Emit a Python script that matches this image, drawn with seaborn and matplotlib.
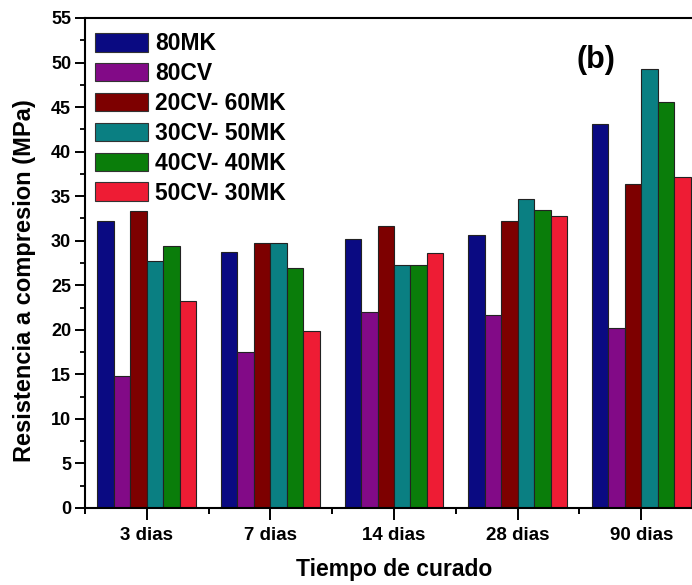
import matplotlib
matplotlib.use("Agg")
import matplotlib.pyplot as plt
from matplotlib.ticker import MultipleLocator, FixedLocator
import seaborn as sns
import pandas as pd

# Curing times and mix designs
tiempos = ["3 dias", "7 dias", "14 dias", "28 dias", "90 dias"]
mezclas = ["80MK", "80CV", "20CV- 60MK", "30CV- 50MK", "40CV- 40MK", "50CV- 30MK"]

# Compressive strength (MPa) per mix, one value per curing time
r_80mk = [32.2, 28.7, 30.2, 30.6, 43.1]
r_80cv = [14.8, 17.5, 22.0, 21.7, 20.2]
r_20cv_60mk = [33.3, 29.7, 31.6, 32.2, 36.4]
r_30cv_50mk = [27.7, 29.7, 27.3, 34.7, 49.3]
r_40cv_40mk = [29.4, 26.9, 27.3, 33.4, 45.6]
r_50cv_30mk = [23.2, 19.9, 28.6, 32.8, 37.1]

colores = ["#0a0a82", "#820a87", "#7d0000", "#0a7f82", "#0a7d0a", "#ee1c34"]

series = [r_80mk, r_80cv, r_20cv_60mk, r_30cv_50mk, r_40cv_40mk, r_50cv_30mk]
rows = []
for mezcla, vals in zip(mezclas, series):
    for t, v in zip(tiempos, vals):
        rows.append({"Tiempo": t, "Mezcla": mezcla, "Resistencia": v})
df = pd.DataFrame(rows)

sns.set_theme(style="white")
plt.rcParams["font.family"] = ["Liberation Sans", "DejaVu Sans"]
plt.rcParams["font.weight"] = "bold"
plt.rcParams["text.color"] = "black"
plt.rcParams["axes.labelcolor"] = "black"
plt.rcParams["xtick.color"] = "black"
plt.rcParams["ytick.color"] = "black"

fig = plt.figure(figsize=(6.92, 5.85), dpi=100)
ax = fig.add_axes([85 / 692, 77 / 585, 618 / 692, 490 / 585])

sns.barplot(data=df, x="Tiempo", y="Resistencia", hue="Mezcla",
            order=tiempos, hue_order=mezclas, palette=colores,
            width=0.8, edgecolor="#222222", linewidth=0.8,
            saturation=1.0, ax=ax)

ax.set_xlim(-0.5, 4.5)
ax.set_ylim(0, 55)
ax.yaxis.set_major_locator(MultipleLocator(5))
ax.yaxis.set_minor_locator(MultipleLocator(2.5))
ax.xaxis.set_minor_locator(FixedLocator([-0.5, 0.5, 1.5, 2.5, 3.5]))

for s in ax.spines.values():
    s.set_color("black")
    s.set_linewidth(1.5)

ax.tick_params(axis="y", which="major", direction="out", length=7, width=1.4,
               left=True, labelsize=13, pad=3)
ax.tick_params(axis="y", which="minor", direction="out", length=3.5, width=1.3,
               left=True)
ax.tick_params(axis="x", which="major", direction="out", length=8.5, width=1.4,
               bottom=True, labelsize=13.5, pad=5)
ax.tick_params(axis="x", which="minor", direction="out", length=4, width=1.4,
               bottom=True)
for lab in ax.get_xticklabels() + ax.get_yticklabels():
    lab.set_fontweight("bold")

ax.set_xlabel("Tiempo de curado", fontsize=16.5, fontweight="bold", labelpad=10)
ax.set_ylabel("Resistencia a compresion (MPa)", fontsize=17, fontweight="bold")
ax.yaxis.set_label_coords(-0.080, 0.465)

ax.text(0.795, 0.915, "(b)", transform=ax.transAxes, fontsize=22,
        fontweight="bold", ha="left", va="center")

leg = ax.legend(loc="upper left", bbox_to_anchor=(0.0, 0.992), frameon=False,
                prop={"weight": "bold", "size": 16.5},
                handlelength=2.3, handleheight=0.87, handletextpad=0.3,
                labelspacing=0.3, borderaxespad=0.05, borderpad=0.4)
for h in leg.legend_handles:
    h.set_edgecolor("#333333")
    h.set_linewidth(0.8)

fig.savefig("out.png", dpi=100)
